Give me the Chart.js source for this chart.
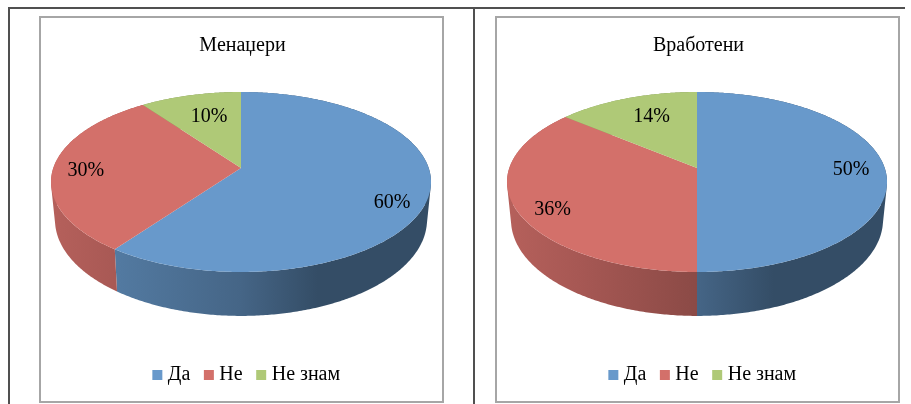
<!DOCTYPE html>
<html>
<head>
<meta charset="utf-8">
<script src="https://cdn.jsdelivr.net/npm/chart.js@4/dist/chart.umd.min.js"></script>
<style>
    html, body { margin: 0; padding: 0; background: #fff; }
    body { position: relative; width: 911px; height: 404px; overflow: hidden; }
    .rule { position: absolute; background: #505050; }
    .box { position: absolute; top: 16px; width: 401px; height: 383px; border: 2px solid #a6a6a6; background: #fff; }
    .box canvas { display: block; }
</style>
</head>
<body>
<div class="rule" style="left:8px;top:7px;width:897px;height:2px"></div>
<div class="rule" style="left:8px;top:7px;width:2px;height:397px"></div>
<div class="rule" style="left:473px;top:7px;width:2px;height:397px"></div>
<div class="box" style="left:39px"><canvas id="managers" width="401" height="383"></canvas></div>
<div class="box" style="left:495px"><canvas id="employees" width="401" height="383"></canvas></div>
<script>
const categories = ['Да', 'Не', 'Не знам'];
const managersValues = [60, 30, 10];
const employeesValues = [50, 36, 14];
const sliceColors = ['#6899CB', '#D3706A', '#AFC977'];
const serifFont = '"Liberation Serif", serif';

// Pie seen from above with perspective: a disc maps to an ellipse and the hub sits above its centre.
const topFace = { kx: 1.877, ky: 0.878, k: 0.1556, drop: 0 };
const bottomFace = { kx: 1.836, ky: 0.935, k: 0.16, drop: 36.6 };

// The pie sits off the chart area centre to leave room for its wall.
const pieShiftX = -1.5;
const pieShiftY = -39.5;
const legendShiftX = 6;

// Side wall shading, by fraction of the chart width, as [stop, brightness].
const wallShade = [[0.03, 0.86], [0.2, 0.79], [0.5, 0.66], [0.69, 0.5], [1, 0.5]];

function project(arc, face, theta, f) {
    const u = Math.cos(theta) * f;
    const v = -Math.sin(theta) * f;
    const w = 1 + face.k * v;
    return {
        x: arc.x + pieShiftX + face.kx * arc.outerRadius * u / w,
        y: arc.y + pieShiftY + face.drop - face.ky * arc.outerRadius * v / w
    };
}

function shade(hex, b) {
    const n = parseInt(hex.slice(1), 16);
    const c = [n >> 16, (n >> 8) & 255, n & 255].map(v => Math.round(v * b));
    return `rgb(${c[0]},${c[1]},${c[2]})`;
}

function rim(ctx, arc, face, from, to) {
    const steps = Math.max(2, Math.ceil(Math.abs(to - from) / 0.01));
    for (let i = 0; i <= steps; i++) {
        const p = project(arc, face, from + (to - from) * i / steps, 1);
        ctx.lineTo(p.x, p.y);
    }
}

// One quad per step, all wound the same way, so the strip keeps no holes where it folds at the silhouette
function wallPath(ctx, arc) {
    const steps = Math.max(2, Math.ceil((arc.endAngle - arc.startAngle) / 0.01));
    ctx.beginPath();
    for (let i = 0; i < steps; i++) {
        const a = arc.startAngle + (arc.endAngle - arc.startAngle) * i / steps;
        const b = arc.startAngle + (arc.endAngle - arc.startAngle) * (i + 1) / steps;
        const q = [project(arc, topFace, a, 1), project(arc, topFace, b, 1),
            project(arc, bottomFace, b, 1), project(arc, bottomFace, a, 1)];
        let area = 0;
        q.forEach((p, j) => {
            const n = q[(j + 1) % 4];
            area += p.x * n.y - n.x * p.y;
        });
        if (area < 0) q.reverse();
        ctx.moveTo(q[0].x, q[0].y);
        q.slice(1).forEach(p => ctx.lineTo(p.x, p.y));
        ctx.closePath();
    }
}

const pie3d = {
    id: 'pie3d',
    afterLayout(chart) {
        chart.legend.left += legendShiftX;
        chart.legend.right += legendShiftX;
    },
    beforeDatasetDraw(chart, args) {
        const ctx = chart.ctx;
        const arcs = args.meta.data;
        const width = chart.width;

        ctx.save();
        // walls first, the top face covers whatever part of them is behind
        arcs.forEach((arc, i) => {
            const g = ctx.createLinearGradient(0, 0, width, 0);
            wallShade.forEach(s => g.addColorStop(s[0], shade(sliceColors[i], s[1])));
            wallPath(ctx, arc);
            ctx.fillStyle = g;
            ctx.fill();
        });
        arcs.forEach((arc, i) => {
            const hub = project(arc, topFace, 0, 0);
            ctx.beginPath();
            ctx.moveTo(hub.x, hub.y);
            rim(ctx, arc, topFace, arc.startAngle, arc.endAngle);
            ctx.closePath();
            ctx.fillStyle = sliceColors[i];
            ctx.fill();
        });
        ctx.restore();
        return false;
    },
    afterDatasetsDraw(chart, args, opts) {
        const ctx = chart.ctx;
        const values = chart.data.datasets[0].data;
        const total = values.reduce((a, b) => a + b, 0);
        ctx.save();
        ctx.font = '20px ' + serifFont;
        ctx.fillStyle = '#000';
        ctx.textAlign = 'center';
        ctx.textBaseline = 'middle';
        chart.getDatasetMeta(0).data.forEach((arc, i) => {
            const mid = (arc.startAngle + arc.endAngle) / 2;
            const p = project(arc, topFace, mid, 0.8);
            const nudge = opts.nudges[i];
            ctx.fillText(Math.round(values[i] / total * 100) + '%', p.x + nudge[0], p.y + nudge[1]);
        });
        ctx.restore();
    }
};

function makePie(id, titleText, values, nudges) {
    return new Chart(document.getElementById(id), {
        type: 'pie',
        data: {
            labels: categories,
            datasets: [{ data: values, backgroundColor: sliceColors, borderWidth: 0 }]
        },
        plugins: [pie3d],
        options: {
            responsive: false,
            animation: false,
            radius: 100,
            layout: { padding: { left: 2, bottom: 6 } },
            plugins: {
                pie3d: { nudges: nudges },
                tooltip: { enabled: false },
                title: {
                    display: true,
                    text: titleText,
                    color: '#000',
                    font: { family: serifFont, size: 20, weight: 'normal' },
                    padding: { top: 16, bottom: 10 }
                },
                legend: {
                    position: 'bottom',
                    labels: {
                        color: '#000',
                        font: { family: serifFont, size: 20 },
                        usePointStyle: true,
                        pointStyle: 'rect',
                        boxWidth: 1,
                        boxHeight: 10,
                        padding: 18
                    }
                }
            }
        }
    });
}

makePie('managers', 'Менаџери', managersValues, [[2.5, 12], [-5, 3], [9.5, 8]]);
makePie('employees', 'Вработени', employeesValues, [[4, 2], [-1, 10], [12, 6]]);
</script>
</body>
</html>
